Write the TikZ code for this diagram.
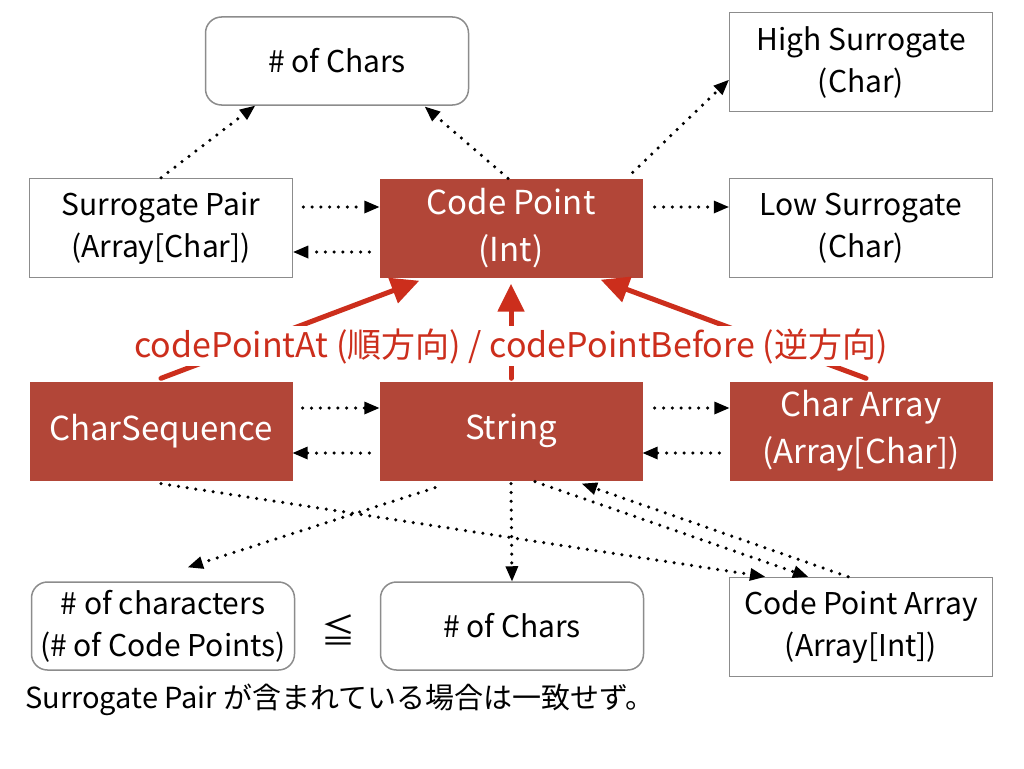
\documentclass[tikz,border=0pt]{standalone}
\usepackage{fontspec}
\setmainfont{Noto Sans CJK JP}
\usetikzlibrary{arrows.meta}
\definecolor{boxred}{RGB}{178,70,56}
\definecolor{labelred}{RGB}{204,46,28}
\definecolor{edgegray}{RGB}{140,140,140}
\tikzset{
  plainbox/.style={draw=edgegray,line width=1.5pt,fill=white,minimum width=263pt,minimum height=99pt,
    align=center,font=\fontsize{30}{42}\selectfont},
  roundbox/.style={plainbox,rounded corners=16pt,minimum height=88pt},
  redbox/.style={fill=boxred,text=white,minimum width=263pt,minimum height=99pt,
    align=center,font=\fontsize{33}{47}\selectfont},
  conn/.style={line width=3.5pt,dash pattern=on 0pt off 8.8pt,line cap=round,
    -{Triangle[length=15pt,width=13pt,line width=0pt]}},
  redarrow/.style={labelred,line width=5pt,line cap=round,-{Triangle[length=28pt,width=26pt]}},
}
\begin{document}
\begin{tikzpicture}[x=1pt,y=-1pt]
    \useasboundingbox (0,0) rectangle (1024,768);
    %% upper row
    \node[roundbox] (nctop) at (337,61) {\# of Chars};
    \node[plainbox] (hs) at (861,62) {High Surrogate\\(Char)};
    %% code point row
    \node[plainbox] (sp) at (161,228) {Surrogate Pair\\(Array[Char])};
    \node[redbox] (cp) at (511,228) {Code Point\\(Int)};
    \node[plainbox] (ls) at (861,228) {Low Surrogate\\(Char)};
    %% string row
    \node[redbox] (cs) at (161,431) {CharSequence};
    \node[redbox] (st) at (511,431) {String};
    \node[redbox] (ca) at (861,431) {Char Array\\(Array[Char])};
    %% lower row
    \node[roundbox] (nch) at (163,626) {\# of characters\\(\# of Code Points)};
    \node[font=\fontsize{34}{40}\selectfont] (leq) at (338,630) {≦};
    \node[roundbox] (ncbot) at (512,626) {\# of Chars};
    \node[plainbox] (cpa) at (861,627) {Code Point Array\\(Array[Int])};
    \node[anchor=west,font=\fontsize{29}{34}\selectfont,inner sep=0pt] (note) at (25,700)
        {Surrogate Pair が含まれている場合は一致せず。};

    %% dotted connectors
    \draw[conn] (sp.north) -- ([xshift=-82pt]nctop.south);
    \draw[conn] ([xshift=-3pt]cp.north) -- ([xshift=88pt,yshift=-1pt]nctop.south);
    \draw[conn] ([xshift=-10pt,yshift=6pt]cp.north east) -- ([yshift=-18pt]hs.west);
    \draw[conn,shorten <=10pt] ([yshift=21pt]sp.east) -- ([yshift=21pt]cp.west);
    \draw[conn,shorten <=10pt] ([yshift=-24pt]cp.west) -- ([yshift=-24pt]sp.east);
    \draw[conn,shorten <=12pt] ([yshift=21pt]cp.east) -- ([yshift=21pt]ls.west);
    \draw[conn,shorten <=10pt] ([yshift=23pt]cs.east) -- ([yshift=23pt]st.west);
    \draw[conn,shorten <=10pt] ([yshift=-22pt]st.west) -- ([yshift=-22pt]cs.east);
    \draw[conn,shorten <=12pt] ([yshift=23pt]st.east) -- ([yshift=23pt]ca.west);
    \draw[conn,shorten <=10pt] ([yshift=-22pt]ca.west) -- ([yshift=-22pt]st.east);
    \draw[conn] ([xshift=-76pt,yshift=-7pt]st.south) -- ([xshift=25pt,yshift=14pt]nch.north);
    \draw[conn] ([yshift=-3pt]st.south) -- (ncbot.north);
    \draw[conn] ([xshift=24pt,yshift=-1pt]st.south) -- ([xshift=-53pt]cpa.north);
    \draw[conn] ([xshift=-13pt]cpa.north) -- ([xshift=71pt,yshift=-3pt]st.south);
    \draw[conn] ([yshift=-3pt]cs.south) -- ([xshift=-96pt]cpa.north);

    %% red arrows and their label
    \draw[redarrow] ([yshift=3pt]cs.north) -- ([xshift=40pt,yshift=-3pt]cp.south west);
    \draw[redarrow] ([yshift=3pt]st.north) -- ([yshift=-6pt]cp.south);
    \draw[redarrow] ([xshift=5pt,yshift=3pt]ca.north) -- ([xshift=-42pt,yshift=-2pt]cp.south east);
    \node[fill=white,text=labelred,font=\fontsize{34}{38}\selectfont,inner sep=2pt] (method) at (511,346)
        {codePointAt (順方向) / codePointBefore (逆方向)};
\end{tikzpicture}
\end{document}
